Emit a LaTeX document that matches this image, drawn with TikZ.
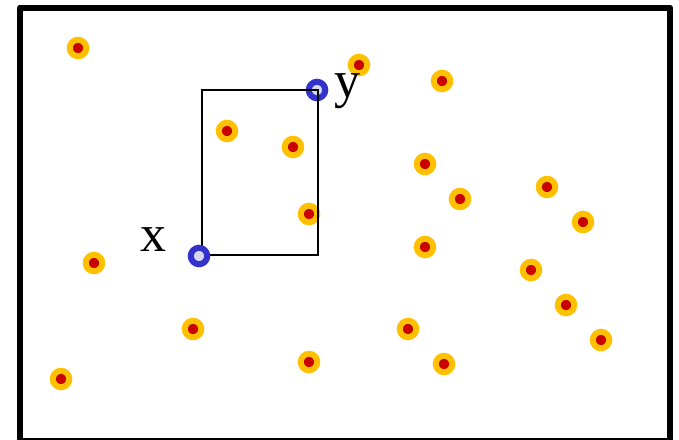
\documentclass[tikz,border=0pt]{standalone}
\usepackage{fontspec}
\setmainfont{Liberation Serif}
\definecolor{dotgold}{RGB}{255,192,0}
\definecolor{dotred}{RGB}{200,0,0}
\definecolor{ringblue}{RGB}{51,51,204}
\definecolor{ringfill}{RGB}{214,214,240}
\tikzset{
  datapt/.style={circle, fill=dotred, draw=dotgold, line width=6pt, inner sep=0pt, minimum size=16.5pt},
  querypt/.style={circle, fill=ringfill, draw=ringblue, line width=6pt, inner sep=0pt, minimum size=16.5pt},
  ptlabel/.style={font=\fontsize{52}{52}\selectfont, inner sep=0pt}
}
\begin{document}
\begin{tikzpicture}[x=1pt, y=-1pt]
\useasboundingbox (0,0) rectangle (679,439);
\clip (0,0) rectangle (679,439);
% Frame
\draw[line width=6pt, line join=round] (20,7.5) rectangle (670,441);
% Data points
\foreach \px/\py [count=\i] in {78/48, 359/65, 442/81, 227/131, 293/147, 425/164, 460/199, 547/187, 583/222, 309/214,
  94/263, 425/247, 531/270, 566/305, 193/329, 408/329, 601/340, 309/362, 444/364, 61/379}
  \node[datapt] (p\i) at (\px,\py) {};
% Query corners and box
\node[querypt] (qy) at (317,90) {};
\draw[line width=2.5pt] (202,90) rectangle (318,255);
\node[querypt] (qx) at (199,256) {};
% Labels
\node[ptlabel] (lx) at (153,240) {x};
\node[ptlabel] (ly) at (347,91) {y};
\end{tikzpicture}
\end{document}
